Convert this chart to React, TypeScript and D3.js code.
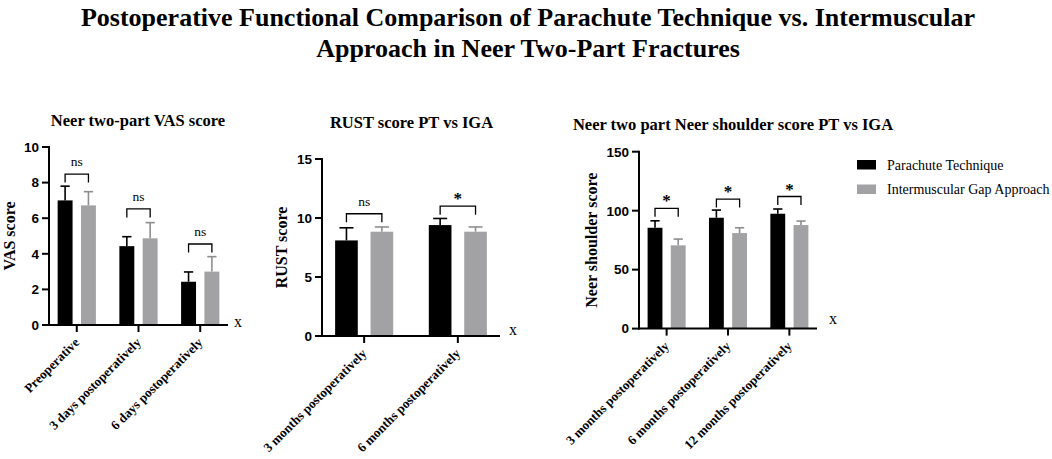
import React from "react";
import * as d3 from "d3";

// ---------- DATA ----------
const seriesNames = ["Parachute Technique", "Intermuscular Gap Approach"];

const vasCategories = ["Preoperative", "3 days postoperatively", "6 days postoperatively"];
const vasPT = [7.0, 4.43, 2.43];
const vasPTErr = [0.8, 0.53, 0.55];
const vasIGA = [6.72, 4.87, 3.0];
const vasIGAErr = [0.77, 0.88, 0.84];
const vasSig = ["ns", "ns", "ns"];
const vasBracket = [8.48, 6.52, 4.55];
const vasTicks = [0, 2, 4, 6, 8, 10];

const rustCategories = ["3 months postoperatively", "6 months postoperatively"];
const rustPT = [8.1, 9.4];
const rustPTErr = [1.07, 0.56];
const rustIGA = [8.84, 8.84];
const rustIGAErr = [0.4, 0.4];
const rustSig = ["ns", "*"];
const rustBracket = [10.36, 11.0];
const rustTicks = [0, 5, 10, 15];

const neerCategories = ["3 months postoperatively", "6 months postoperatively", "12 months postoperatively"];
const neerPT = [85.5, 94.0, 97.4];
const neerPTErr = [5.9, 6.5, 4.0];
const neerIGA = [70.6, 81.0, 87.8];
const neerIGAErr = [5.3, 4.5, 3.4];
const neerSig = ["*", "*", "*"];
const neerBracket = [102, 109.8, 112];
const neerTicks = [0, 50, 100, 150];

const titleLines = [
  "Postoperative Functional Comparison of Parachute Technique vs. Intermuscular",
  "Approach in Neer Two-Part Fractures",
];

// ---------- STYLE ----------
const BLACK = "#000000";
const GRAY = "#a2a2a5";
const GRAY_ERR = "#8e8e92";
const SERIF = "'Liberation Serif', 'Times New Roman', serif";
const SANS = "'Liberation Sans', Arial, sans-serif";

type PanelProps = {
  title: string;
  yLabel: string;
  categories: string[];
  pt: number[];
  ptErr: number[];
  iga: number[];
  igaErr: number[];
  sig: string[];
  bracket: number[];
  ticks: number[];
  x0: number;
  x1: number;
  yTop: number;
  y0: number;
  titleX: number;
  titleY: number;
  yLabelX: number;
  xMark: [number, number];
};

function Panel(p: PanelProps) {
  const ymax = p.ticks[p.ticks.length - 1];
  const y = d3.scaleLinear().domain([0, ymax]).range([p.y0, p.yTop]);
  const x = d3.scalePoint<string>().domain(p.categories).range([p.x0, p.x1]).padding(0.45);
  const groupW = x.step() * 0.62;
  const inner = d3
    .scaleBand<number>()
    .domain([0, 1])
    .range([-groupW / 2, groupW / 2])
    .paddingInner(0.36);
  const bw = inner.bandwidth();
  const capW = bw * 0.62;
  const series = [
    { vals: p.pt, errs: p.ptErr, fill: BLACK, errColor: BLACK },
    { vals: p.iga, errs: p.igaErr, fill: GRAY, errColor: GRAY_ERR },
  ];
  const yMid = (p.y0 + p.yTop) / 2;

  return (
    <g>
      <text
        x={p.titleX}
        y={p.titleY}
        textAnchor="middle"
        fontFamily={SERIF}
        fontWeight="bold"
        fontSize={16.5}
      >
        {p.title}
      </text>
      <text
        transform={`translate(${p.yLabelX},${yMid}) rotate(-90)`}
        textAnchor="middle"
        fontFamily={SERIF}
        fontWeight="bold"
        fontSize={16}
      >
        {p.yLabel}
      </text>

      {/* bars and error bars */}
      {p.categories.map((c, i) =>
        series.map((s, k) => {
          const cx = (x(c) as number) + (inner(k) as number) + bw / 2;
          const top = y(s.vals[i]);
          const errTop = y(s.vals[i] + s.errs[i]);
          return (
            <g key={c + k}>
              <line x1={cx} x2={cx} y1={top} y2={errTop} stroke={s.errColor} strokeWidth={1.6} />
              <line
                x1={cx - capW / 2}
                x2={cx + capW / 2}
                y1={errTop}
                y2={errTop}
                stroke={s.errColor}
                strokeWidth={1.6}
              />
              <rect x={cx - bw / 2} y={top} width={bw} height={p.y0 - top} fill={s.fill} />
            </g>
          );
        })
      )}

      {/* significance brackets */}
      {p.categories.map((c, i) => {
        const xa = (x(c) as number) + (inner(0) as number) + bw / 2;
        const xb = (x(c) as number) + (inner(1) as number) + bw / 2;
        const by = y(p.bracket[i]);
        const isStar = p.sig[i] === "*";
        return (
          <g key={"b" + c}>
            <path
              d={`M${xa},${by + 8.5}V${by}H${xb}V${by + 8.5}`}
              fill="none"
              stroke={BLACK}
              strokeWidth={1.3}
            />
            <text
              x={(xa + xb) / 2}
              y={isStar ? by - 2 : by - 8}
              textAnchor="middle"
              fontFamily={SERIF}
              fontWeight={isStar ? "bold" : "normal"}
              fontSize={isStar ? 17 : 13.5}
            >
              {p.sig[i]}
            </text>
          </g>
        );
      })}

      {/* y axis */}
      <line x1={p.x0} x2={p.x0} y1={p.yTop - 1} y2={p.y0 + 1} stroke={BLACK} strokeWidth={2} />
      {p.ticks.map((t) => (
        <g key={"t" + t}>
          <line x1={p.x0 - 7} x2={p.x0} y1={y(t)} y2={y(t)} stroke={BLACK} strokeWidth={2} />
          <text
            x={p.x0 - 10}
            y={y(t)}
            dy="0.36em"
            textAnchor="end"
            fontFamily={SANS}
            fontWeight="bold"
            fontSize={13.5}
          >
            {t}
          </text>
        </g>
      ))}

      {/* x axis */}
      <line x1={p.x0 - 1} x2={p.x1} y1={p.y0} y2={p.y0} stroke={BLACK} strokeWidth={2} />
      {p.categories.map((c) => {
        const tx = x(c) as number;
        return (
          <g key={"x" + c}>
            <line x1={tx} x2={tx} y1={p.y0} y2={p.y0 + 7} stroke={BLACK} strokeWidth={2} />
            <text
              transform={`translate(${tx},${p.y0 + 15}) rotate(-45)`}
              textAnchor="end"
              dy="0.35em"
              fontFamily={SERIF}
              fontWeight="bold"
              fontSize={13}
            >
              {c}
            </text>
          </g>
        );
      })}
      <text
        x={p.xMark[0]}
        y={p.xMark[1]}
        dy="0.3em"
        textAnchor="middle"
        fontFamily={SERIF}
        fontSize={16}
      >
        x
      </text>
    </g>
  );
}

export default function App() {
  return (
    <div style={{ position: "absolute", left: 0, top: 0, width: 1052, height: 459, background: "#fff" }}>
      <svg width={1052} height={459} viewBox="0 0 1052 459">
        <rect width={1052} height={459} fill="#fff" />
        {titleLines.map((t, i) => (
          <text
            key={i}
            x={528}
            y={26 + i * 31}
            textAnchor="middle"
            fontFamily={SERIF}
            fontWeight="bold"
            fontSize={26}
          >
            {t}
          </text>
        ))}

        <Panel
          title="Neer two-part VAS score"
          yLabel="VAS score"
          categories={vasCategories}
          pt={vasPT}
          ptErr={vasPTErr}
          iga={vasIGA}
          igaErr={vasIGAErr}
          sig={vasSig}
          bracket={vasBracket}
          ticks={vasTicks}
          x0={49}
          x1={228}
          yTop={147}
          y0={325}
          titleX={138}
          titleY={125.5}
          yLabelX={15}
          xMark={[238, 322]}
        />
        <Panel
          title="RUST score PT vs IGA"
          yLabel="RUST score"
          categories={rustCategories}
          pt={rustPT}
          ptErr={rustPTErr}
          iga={rustIGA}
          igaErr={rustIGAErr}
          sig={rustSig}
          bracket={rustBracket}
          ticks={rustTicks}
          x0={322}
          x1={500}
          yTop={159}
          y0={336}
          titleX={411.5}
          titleY={127.5}
          yLabelX={287}
          xMark={[513, 330]}
        />
        <Panel
          title="Neer two part Neer shoulder score PT vs IGA"
          yLabel="Neer shoulder score"
          categories={neerCategories}
          pt={neerPT}
          ptErr={neerPTErr}
          iga={neerIGA}
          igaErr={neerIGAErr}
          sig={neerSig}
          bracket={neerBracket}
          ticks={neerTicks}
          x0={639}
          x1={817}
          yTop={151.7}
          y0={328.6}
          titleX={733}
          titleY={129.5}
          yLabelX={597}
          xMark={[833, 319]}
        />

        {/* legend */}
        {seriesNames.map((n, i) => (
          <g key={n}>
            <rect x={857} y={160 + i * 24.5} width={19} height={9.5} fill={i === 0 ? BLACK : GRAY} />
            <text
              x={887}
              y={164.8 + i * 24.5}
              dy="0.35em"
              fontFamily={SERIF}
              fontSize={14}
            >
              {n}
            </text>
          </g>
        ))}
      </svg>
    </div>
  );
}
